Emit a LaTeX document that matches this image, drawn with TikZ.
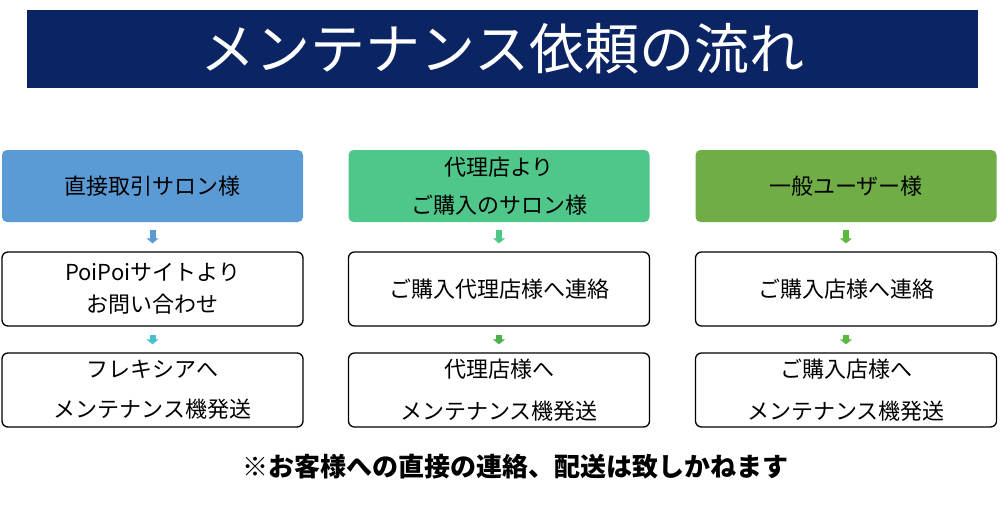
\documentclass[tikz,border=0pt]{standalone}
\usepackage{fontspec}
\setmainfont{Noto Sans CJK JP}
\usetikzlibrary{arrows.meta}
\definecolor{navy}{HTML}{0B2463}
\definecolor{cblue}{HTML}{5B9BD5}
\definecolor{cmint}{HTML}{4FC68A}
\definecolor{cgreen}{HTML}{70AD47}
\definecolor{acyan}{HTML}{4BBFCF}
\definecolor{agreen}{HTML}{4CAF50}
\definecolor{agreen3}{HTML}{5DB83E}
\begin{document}
\begin{tikzpicture}[x=1pt,y=-1pt,
  hdr/.style={rounded corners=5pt,minimum width=301pt,minimum height=72pt,align=center,font=\fontsize{22}{38}\selectfont,inner sep=0pt},
  box/.style={draw=black,line width=1.3pt,rounded corners=6pt,fill=white,minimum width=301pt,minimum height=74pt,align=center,inner sep=0pt},
  arr/.style={line width=6pt,-{Triangle[width=12pt,length=5pt]},shorten <=8pt,shorten >=8pt}]
\useasboundingbox (0,0) rectangle (1000,506);
\node[fill=navy,minimum width=951pt,minimum height=78pt,inner sep=0pt,text=white,font=\fontsize{55}{57}\selectfont] (title) at (502.5,49) {メンテナンス依頼の流れ};
\foreach \i/\x in {1/152.5,2/499,3/846}{
  \node[box] (m\i) at (\x,289) {};
  \node[box] (b\i) at (\x,390) {};
}
\node[hdr,fill=cblue] (h1) at (152.5,186) {直接取引サロン様};
\node[hdr,fill=cmint] (h2) at (499,186) {代理店より\\ご購入のサロン様};
\node[hdr,fill=cgreen] (h3) at (846,186) {一般ユーザー様};
\node[font=\fontsize{22}{32}\selectfont,align=center] (t1) at (m1) {PoiPoiサイトより\\お問い合わせ};
\node[font=\fontsize{22}{32}\selectfont] (t2) at (m2) {ご購入代理店様へ連絡};
\node[font=\fontsize{22}{32}\selectfont] (t3) at (m3) {ご購入店様へ連絡};
\node[font=\fontsize{22}{40}\selectfont,align=center] (u1) at (b1) {フレキシアへ\\メンテナンス機発送};
\node[font=\fontsize{22}{42}\selectfont,align=center] (u2) at (b2) {代理店様へ\\メンテナンス機発送};
\node[font=\fontsize{22}{42}\selectfont,align=center] (u3) at (b3) {ご購入店様へ\\メンテナンス機発送};
\draw[arr,cblue] (h1.south) -- (m1.north);
\draw[arr,acyan] (m1.south) -- (b1.north);
\draw[arr,cmint] (h2.south) -- (m2.north);
\draw[arr,agreen] (m2.south) -- (b2.north);
\draw[arr,agreen3] (h3.south) -- (m3.north);
\draw[arr,agreen3] (m3.south) -- (b3.north);
\node[font=\bfseries\fontsize{26}{28}\selectfont] (note) at (515,467) {※お客様への直接の連絡、配送は致しかねます};
\end{tikzpicture}
\end{document}
